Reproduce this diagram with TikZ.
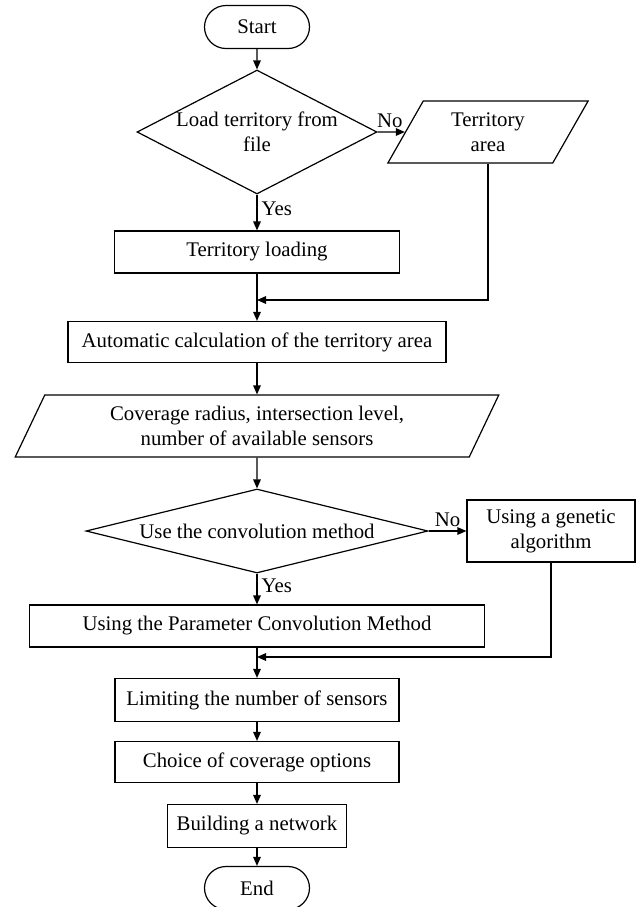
\documentclass[tikz,border=0pt]{standalone}
\usepackage{fontspec}
\setmainfont{Liberation Serif}
\usepackage{tikz}
\usetikzlibrary{arrows.meta, shapes.geometric, shapes.misc, positioning}

\tikzset{
  base/.style={draw, line width=0.6pt, inner sep=0pt, align=center, font=\fontsize{10.4}{12.5}\selectfont},
  termin/.style={base, rounded rectangle, minimum width=52.5pt, minimum height=21.5pt},
  procbox/.style={base, rectangle, minimum height=21pt},
  iobox/.style={base, trapezium, trapezium left angle=62.7, trapezium right angle=117.3, trapezium stretches=true, minimum height=31pt},
  decide/.style={base, diamond},
  flow/.style={line width=0.6pt, -{Triangle[length=4.5pt, width=3.8pt]}},
  lbl/.style={font=\fontsize{10.4}{12.5}\selectfont, inner sep=1pt}
}

\begin{document}
\begin{tikzpicture}[x=0.5pt, y=-0.5pt]
  \useasboundingbox (0,0) rectangle (637,907);

  % Start and first decision
  \node[termin] (start) at (257,27) {Start};
  \node[decide, minimum width=120pt, minimum height=62pt] (dec1) at (257,132) {};
  \node[lbl, align=center] at (257,132) {Load territory from\\file};
  \node[iobox, minimum width=100.5pt] (tarea) at (488,132) {Territory\\area};
  \node[procbox, minimum width=142.5pt] (tload) at (257,252) {Territory loading};

  % Area calculation and input data
  \coordinate (join1) at (257,300);
  \node[procbox, minimum width=189pt, minimum height=20.5pt] (autoc) at (257,342) {Automatic calculation of the territory area};
  \node[iobox, minimum width=242pt] (cover) at (257,426) {Coverage radius, intersection level,\\number of available sensors};

  % Second decision
  \node[decide, minimum width=171pt, minimum height=42pt] (dec2) at (257,531) {};
  \node[lbl] at (257,531) {Use the convolution method};
  \node[procbox, minimum width=84pt, minimum height=31pt] (genetic) at (551,531) {Using a genetic\\algorithm};
  \node[procbox, minimum width=227.5pt] (param) at (257,626) {Using the Parameter Convolution Method};

  % Final steps
  \coordinate (join2) at (257,657);
  \node[procbox, minimum width=142pt, minimum height=21.5pt] (limit) at (257,700) {Limiting the number of sensors};
  \node[procbox, minimum width=142pt, minimum height=20.5pt] (choice) at (257,762) {Choice of coverage options};
  \node[procbox, minimum width=89.5pt, minimum height=21.5pt] (build) at (257,826) {Building a network};
  \node[termin] (end) at (257,888) {End};

  % Connectors
  \draw[flow] (start) -- (dec1);
  \draw[flow] (dec1) -- node[lbl, pos=0.4, anchor=west, inner sep=2pt] {Yes} (tload);
  \draw[flow] (dec1.east) -- node[lbl, pos=0.45, above, inner sep=2pt] {No} (tarea);
  \draw[flow] (tarea.south) |- (join1);
  \draw[flow] (tload) -- (autoc);
  \draw[flow] (autoc) -- (cover);
  \draw[flow] (cover) -- (dec2);
  \draw[flow] (dec2) -- node[lbl, pos=0.4, anchor=west, inner sep=2pt] {Yes} (param);
  \draw[flow] (dec2.east) -- node[lbl, pos=0.5, above, inner sep=2pt] {No} (genetic);
  \draw[flow] (genetic.south) |- (join2);
  \draw[flow] (param) -- (limit);
  \draw[flow] (limit) -- (choice);
  \draw[flow] (choice) -- (build);
  \draw[flow] (build) -- (end);
\end{tikzpicture}
\end{document}
